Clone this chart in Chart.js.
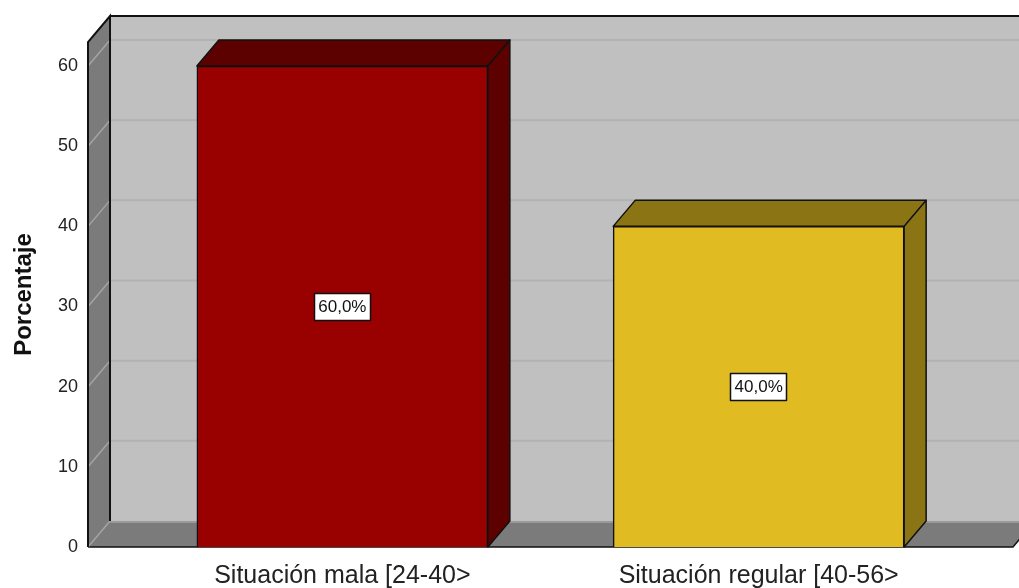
<!DOCTYPE html>
<html>
<head>
<meta charset="utf-8">
<script src="https://cdn.jsdelivr.net/npm/chart.js@4.4.1/dist/chart.umd.min.js"></script>
<style>
  html, body { margin: 0; padding: 0; background: #ffffff; }
  #wrap { width: 1019px; height: 588px; position: relative; }
</style>
</head>
<body>
<div id="wrap"><canvas id="c"></canvas></div>
<script>
// ---- data ----
const categories = ['Situación mala [24-40>', 'Situación regular [40-56>'];
const percentages = [60.0, 40.0];
const yTicks = [0, 10, 20, 30, 40, 50, 60];
const yTitle = 'Porcentaje';
const frontColors = ['#990000', '#E1BB22'];
const sideColors = ['#5C0000', '#8A7414'];

const FONT = "'Liberation Sans', Arial, sans-serif";
const DX = 22, DY = 26;

const walls3d = {
  id: 'walls3d',
  beforeDatasetsDraw(chart) {
    const ctx = chart.ctx;
    const a = chart.chartArea;
    const ys = chart.scales.y;
    const L = a.left, R = a.right, T = a.top, B = a.bottom;
    const W = chart.width;
    ctx.save();
    // back wall
    ctx.fillStyle = '#C0C0C0';
    ctx.fillRect(L + DX, T - DY, W - (L + DX) + 40, B - T);
    // back wall gridlines
    ctx.strokeStyle = '#B2B2B2';
    ctx.lineWidth = 2;
    yTicks.forEach(v => {
      if (v === 0) return;
      const y = ys.getPixelForValue(v) - DY;
      ctx.beginPath(); ctx.moveTo(L + DX, y); ctx.lineTo(W + 40, y); ctx.stroke();
    });
    // top edge of back wall
    ctx.strokeStyle = '#111';
    ctx.lineWidth = 2;
    ctx.beginPath(); ctx.moveTo(L + DX, T - DY); ctx.lineTo(W + 40, T - DY); ctx.stroke();

    // floor
    ctx.fillStyle = '#7B7B7B';
    ctx.beginPath();
    ctx.moveTo(L, B); ctx.lineTo(L + DX, B - DY); ctx.lineTo(R + DX, B - DY); ctx.lineTo(R, B); ctx.closePath();
    ctx.fill();
    ctx.strokeStyle = '#9A9A9A';
    ctx.lineWidth = 2;
    ctx.beginPath(); ctx.moveTo(L + DX, B - DY + 1); ctx.lineTo(R + DX, B - DY + 1); ctx.stroke();
    ctx.strokeStyle = '#111';
    ctx.lineWidth = 1.5;
    ctx.beginPath(); ctx.moveTo(L, B); ctx.lineTo(R, B); ctx.lineTo(R + DX, B - DY); ctx.stroke();

    // left wall
    ctx.fillStyle = '#7B7B7B';
    ctx.beginPath();
    ctx.moveTo(L, T); ctx.lineTo(L + DX, T - DY); ctx.lineTo(L + DX, B - DY); ctx.lineTo(L, B); ctx.closePath();
    ctx.fill();
    // left wall gridlines
    ctx.strokeStyle = '#A4A4A4';
    ctx.lineWidth = 1.5;
    yTicks.forEach(v => {
      const y = ys.getPixelForValue(v);
      ctx.beginPath(); ctx.moveTo(L, y); ctx.lineTo(L + DX, y - DY); ctx.stroke();
    });
    // left wall outline
    ctx.strokeStyle = '#111';
    ctx.lineWidth = 2;
    ctx.beginPath();
    ctx.moveTo(L, B); ctx.lineTo(L, T); ctx.lineTo(L + DX, T - DY); ctx.lineTo(L + DX, B - DY);
    ctx.stroke();
    ctx.restore();
  },
  afterDatasetsDraw(chart) {
    const ctx = chart.ctx;
    const meta = chart.getDatasetMeta(0);
    ctx.save();
    meta.data.forEach((bar, i) => {
      const p = bar.getProps(['x', 'y', 'base', 'width'], true);
      const xl = p.x - p.width / 2, xr = p.x + p.width / 2;
      ctx.fillStyle = sideColors[i];
      ctx.strokeStyle = '#111';
      ctx.lineWidth = 1.5;
      ctx.lineJoin = 'round';
      // top face
      ctx.beginPath();
      ctx.moveTo(xl, p.y); ctx.lineTo(xl + DX, p.y - DY); ctx.lineTo(xr + DX, p.y - DY); ctx.lineTo(xr, p.y); ctx.closePath();
      ctx.fill(); ctx.stroke();
      // right side face
      ctx.beginPath();
      ctx.moveTo(xr, p.y); ctx.lineTo(xr + DX, p.y - DY); ctx.lineTo(xr + DX, p.base - DY); ctx.lineTo(xr, p.base); ctx.closePath();
      ctx.fill(); ctx.stroke();
      // data label
      const txt = percentages[i].toFixed(1).replace('.', ',') + '%';
      ctx.font = '17px ' + FONT;
      const tw = ctx.measureText(txt).width;
      const bw = Math.round(tw + 9), bh = 28;
      const cy = (p.y + p.base) / 2;
      const bx = Math.round(p.x - bw / 2), by = Math.round(cy - bh / 2);
      ctx.fillStyle = '#ffffff';
      ctx.fillRect(bx, by, bw, bh);
      ctx.strokeStyle = '#111';
      ctx.lineWidth = 1.5;
      ctx.strokeRect(bx + 0.5, by + 0.5, bw - 1, bh - 1);
      ctx.fillStyle = '#111';
      ctx.textAlign = 'center';
      ctx.textBaseline = 'middle';
      ctx.fillText(txt, p.x, cy + 1);
    });
    ctx.restore();
  }
};

new Chart(document.getElementById('c'), {
  type: 'bar',
  data: {
    datasets: [{
      data: percentages.map((v, i) => ({ x: i, y: v })),
      backgroundColor: frontColors,
      borderColor: '#111',
      borderWidth: 1.5,
      barThickness: 291
    }]
  },
  plugins: [walls3d],
  options: {
    responsive: true,
    maintainAspectRatio: false,
    animation: false,
    layout: { padding: { left: 0, top: 42, right: 6, bottom: 0 } },
    plugins: { legend: { display: false }, tooltip: { enabled: false } },
    scales: {
      x: {
        type: 'linear',
        offset: false,
        bounds: 'ticks',
        min: -0.611,
        max: 1.611,
        grid: { display: false },
        border: { display: false },
        afterBuildTicks: (s) => { s.ticks = categories.map((_, i) => ({ value: i })); },
        afterFit: (s) => { s.height = 41; },
        ticks: {
          autoSkip: false, maxRotation: 0, minRotation: 0,
          padding: 6,
          color: '#222',
          font: { family: FONT, size: 25 },
          callback: (v) => categories[v]
        }
      },
      y: {
        min: 0,
        max: 63,
        grid: { display: false },
        border: { display: false },
        afterBuildTicks: (s) => { s.ticks = yTicks.map(v => ({ value: v })); },
        afterFit: (s) => { s.width = 88; },
        ticks: {
          padding: 2,
          color: '#222',
          font: { family: FONT, size: 18 }
        },
        title: {
          display: true,
          text: yTitle,
          color: '#111',
          font: { family: FONT, size: 24, weight: 'bold' },
          padding: { top: 10, bottom: 0 }
        }
      }
    }
  }
});
</script>
</body>
</html>
